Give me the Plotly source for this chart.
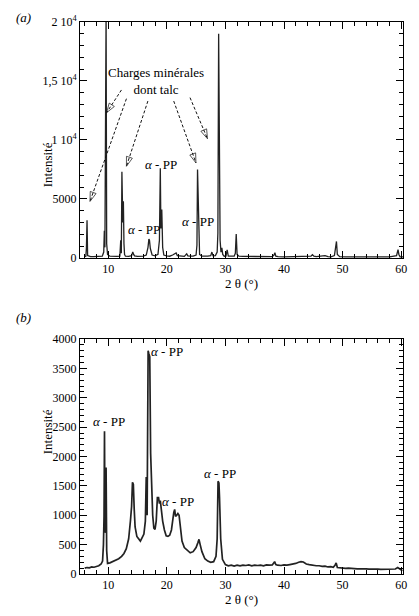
import plotly.graph_objects as go

# ---- data: panel (a) ----
top_x = [6.0, 6.2, 6.3, 6.4, 6.5, 7.0, 7.5, 8.0, 8.5, 9.0, 9.25, 9.35, 9.45, 9.55, 9.65, 9.75, 9.9,
         10.3, 11.0, 11.5, 12.0, 12.15, 12.25, 12.35, 12.5, 12.6, 12.7, 12.8, 12.95, 13.5, 14.0, 14.2,
         14.35, 14.5, 15.0, 15.5, 16.0, 16.5, 16.8, 16.95, 17.05, 17.2, 17.5, 18.0, 18.5, 18.75, 18.9,
         19.0, 19.15, 19.3, 19.5, 20.0, 20.5, 21.0, 21.4, 21.6, 21.8, 22.5, 23.0, 23.4, 23.6, 24.0,
         24.5, 25.0, 25.15, 25.25, 25.35, 25.45, 25.6, 26.0, 26.5, 27.0, 27.5, 27.7, 27.9, 28.3, 28.6,
         28.72, 28.85, 28.95, 29.1, 29.25, 29.4, 29.55, 29.8, 30.1, 30.3, 30.5, 31.0, 31.5, 31.7, 31.85,
         32.0, 32.3, 33.0, 34.0, 35.0, 36.0, 37.0, 38.0, 38.3, 38.45, 38.6, 39.0, 40.0, 41.0, 42.0,
         43.0, 44.0, 44.6, 44.85, 45.1, 45.5, 46.0, 47.0, 47.5, 48.0, 48.6, 48.8, 48.95, 49.1, 49.5,
         50.5, 52.0, 53.5, 55.0, 56.5, 58.0, 59.2, 59.45, 59.6, 59.8, 60.3]
top_y = [120, 150, 900, 3200, 200, 110, 120, 110, 130, 150, 500, 2300, 900, 21000, 21000, 1200, 300,
         150, 120, 130, 160, 1500, 400, 7300, 3000, 4800, 1200, 300, 150, 140, 200, 520,
         300, 180, 130, 120, 150, 250, 900, 1600, 1500, 800, 250, 180, 300, 1500, 7600,
         2500, 4100, 900, 250, 180, 150, 250, 380, 420, 200, 150, 140, 350, 180, 160,
         150, 250, 1100, 7500, 4800, 900, 300, 150, 140, 160, 200, 500, 180, 200, 500,
         2100, 19000, 12000, 1500, 500, 850, 300, 150, 160, 680, 160, 140, 150, 400, 2040,
         300, 150, 130, 120, 140, 120, 110, 120, 250, 450, 150, 110, 100, 110, 100,
         100, 110, 150, 280, 150, 110, 120, 200, 110, 100, 200, 900, 1400, 300, 110,
         100, 90, 100, 90, 100, 90, 200, 700, 300, 100, 90]

# ---- data: panel (b) ----
bot_x = [6.0, 6.4, 6.8, 7.2, 7.6, 8.0, 8.4, 8.8, 9.05, 9.2, 9.3, 9.38, 9.46, 9.55, 9.65, 9.75, 9.9,
         10.3, 10.8, 11.3, 11.8, 12.3, 12.7, 13.1, 13.5, 13.8, 14.0, 14.15, 14.3, 14.45, 14.6, 14.9,
         15.2, 15.5, 15.8, 16.1, 16.35, 16.5, 16.65, 16.82, 16.95, 17.1, 17.25, 17.4, 17.6, 17.8,
         18.0, 18.2, 18.4, 18.6, 18.75, 18.9, 19.1, 19.3, 19.6, 19.9, 20.2, 20.5, 20.8, 21.0, 21.2,
         21.35, 21.5, 21.7, 21.9, 22.1, 22.3, 22.6, 23.0, 23.5, 24.0, 24.5, 25.0, 25.3, 25.5, 25.7,
         26.0, 26.5, 27.0, 27.5, 28.0, 28.4, 28.6, 28.75, 28.9, 29.0, 29.2, 29.5, 30.0, 30.5, 31.0,
         31.5, 32.0, 32.5, 33.0, 33.5, 34.0, 34.5, 35.0, 35.5, 36.0, 36.5, 37.0, 37.5, 38.0, 38.4,
         38.6, 38.9, 39.5, 40.0, 40.5, 41.0, 41.5, 42.0, 42.5, 42.9, 43.3, 43.8, 44.3, 44.8, 45.5,
         46.0, 46.5, 47.0, 47.5, 48.0, 48.4, 48.7, 48.9, 49.1, 49.5, 50.0, 50.5, 51.0, 51.5, 52.0,
         52.5, 53.0, 53.5, 54.0, 54.5, 55.0, 55.5, 56.0, 56.5, 57.0, 57.5, 58.0, 58.5, 59.0, 59.4,
         59.7, 60.2]
bot_y = [100, 110, 105, 120, 115, 130, 140, 170, 220, 500, 980, 2430, 700, 1800, 1800, 400, 180,
         190, 210, 230, 260, 300, 350, 430, 600, 900, 1150, 1560, 1530, 1100, 800, 640,
         600, 560, 620, 680, 900, 1650, 1000, 3800, 3750, 3700, 2050, 1500, 1000, 780,
         760, 900, 1300, 1300, 1200, 1250, 1000, 900, 750, 650, 640, 660, 750, 950, 1050,
         1100, 980, 1000, 1030, 1000, 800, 560, 450, 400, 360, 380, 450, 530, 590, 500,
         380, 260, 220, 200, 210, 300, 600, 1580, 1550, 1300, 600, 250, 160, 140, 150,
         135, 150, 140, 150, 145, 155, 140, 150, 145, 150, 140, 155, 150, 155, 210,
         160, 150, 145, 155, 150, 160, 165, 180, 200, 210, 205, 170, 160, 150, 140,
         140, 130, 135, 120, 125, 115, 150, 190, 110, 105, 100, 95, 100, 90, 92,
         88, 90, 85, 88, 82, 85, 80, 82, 78, 80, 75, 76, 80, 85, 110,
         90, 55]

top_yticks = [0, 5000, 10000, 15000, 20000]
top_yticktext = ["0", "5000", "1 10<sup>4</sup>", "1,5 10<sup>4</sup>", "2 10<sup>4</sup>"]
bot_yticks = [0, 500, 1000, 1500, 2000, 2500, 3000, 3500, 4000]

# arrows (annotation geometry, panel a): start -> head
arrows = [((12.27, 14240), (9.73, 12310)),
          ((13.12, 13500), (6.9, 4790)),
          ((16.78, 13300), (13.12, 7770)),
          ((21.19, 13300), (24.98, 8060)),
          ((23.97, 13590), (26.95, 10100))]

FONT = "Liberation Serif"
LC = "#222222"

fig = go.Figure()
fig.add_trace(go.Scatter(x=top_x, y=top_y, xaxis="x", yaxis="y", mode="lines",
                         line=dict(color=LC, width=1.3), showlegend=False, hoverinfo="skip"))
fig.add_trace(go.Scatter(x=bot_x, y=bot_y, xaxis="x2", yaxis="y2", mode="lines",
                         line=dict(color=LC, width=1.7), showlegend=False, hoverinfo="skip"))

for (s, e) in arrows:
    fig.add_trace(go.Scatter(x=[s[0], e[0]], y=[s[1], e[1]], xaxis="x", yaxis="y",
                             mode="lines+markers",
                             line=dict(color="#111", width=1, dash="3px,2px"),
                             marker=dict(symbol="arrow-open", size=[0, 10], angleref="previous",
                                         color="#111", line=dict(color="#111", width=1)),
                             showlegend=False, hoverinfo="skip"))

axis_common = dict(showline=True, linecolor="black", linewidth=1, mirror="allticks",
                   ticks="inside", tickcolor="black", ticklen=7, showgrid=False, zeroline=False,
                   tickfont=dict(family=FONT, size=12, color="black"))

fig.update_layout(
    width=419, height=616,
    margin=dict(l=80, r=14, t=22, b=42),
    paper_bgcolor="white", plot_bgcolor="white",
    font=dict(family=FONT, color="black"),
    xaxis=dict(domain=[0, 1], range=[5.2, 60.3], anchor="y", dtick=10, tick0=0,
               minor=dict(dtick=2, ticks="inside", ticklen=4, tickcolor="black"),
               title=dict(text="2 θ (°)", font=dict(family=FONT, size=13), standoff=1),
               **axis_common),
    yaxis=dict(domain=[0.5725, 1], range=[0, 20000], anchor="x",
               tickvals=top_yticks, ticktext=top_yticktext,
               minor=dict(dtick=1000, ticks="inside", ticklen=4, tickcolor="black"),
               **axis_common),
    xaxis2=dict(domain=[0, 1], range=[5.2, 60.3], anchor="y2", dtick=10, tick0=0,
                minor=dict(dtick=2, ticks="inside", ticklen=4, tickcolor="black"),
                title=dict(text="2 θ (°)", font=dict(family=FONT, size=13), standoff=1),
                **axis_common),
    yaxis2=dict(domain=[0, 0.4257], range=[0, 4000], anchor="x2",
                tickvals=bot_yticks,
                minor=dict(dtick=100, ticks="inside", ticklen=4, tickcolor="black"),
                **axis_common),
)

def px_to_paper(px, py):
    return (px - 80) / (419 - 80 - 14), (574 - py) / (574 - 22)

for txt, (px, py) in [("<i>(a)</i>", (14, 8)), ("<i>(b)</i>", (14, 318))]:
    xp, yp = px_to_paper(px, py)
    fig.add_annotation(text=txt, x=xp, y=yp, xref="paper", yref="paper", showarrow=False,
                       font=dict(family=FONT, size=13, color="black"))
for (px, py) in [(38, 140), (38, 456)]:
    xp, yp = px_to_paper(px, py)
    fig.add_annotation(text="Intensité", x=xp, y=yp, xref="paper", yref="paper", showarrow=False,
                       textangle=-90, font=dict(family=FONT, size=13, color="black"))

fig.add_annotation(text="Charges minérales<br>dont talc", x=18.2, y=15000, xref="x", yref="y",
                   showarrow=False, font=dict(family=FONT, size=13, color="black"))
for (x, y, xr, yr) in [(19.05, 7910, "x", "y"), (16.1, 2380, "x", "y"), (25.4, 3090, "x", "y"),
                       (10.2, 2590, "x2", "y2"), (20.1, 3780, "x2", "y2"),
                       (21.97, 1230, "x2", "y2"), (29.0, 1710, "x2", "y2")]:
    fig.add_annotation(text="<i>α</i> - PP", x=x, y=y, xref=xr, yref=yr, showarrow=False,
                       font=dict(family=FONT, size=13, color="black"))

fig.write_html("out.html")
